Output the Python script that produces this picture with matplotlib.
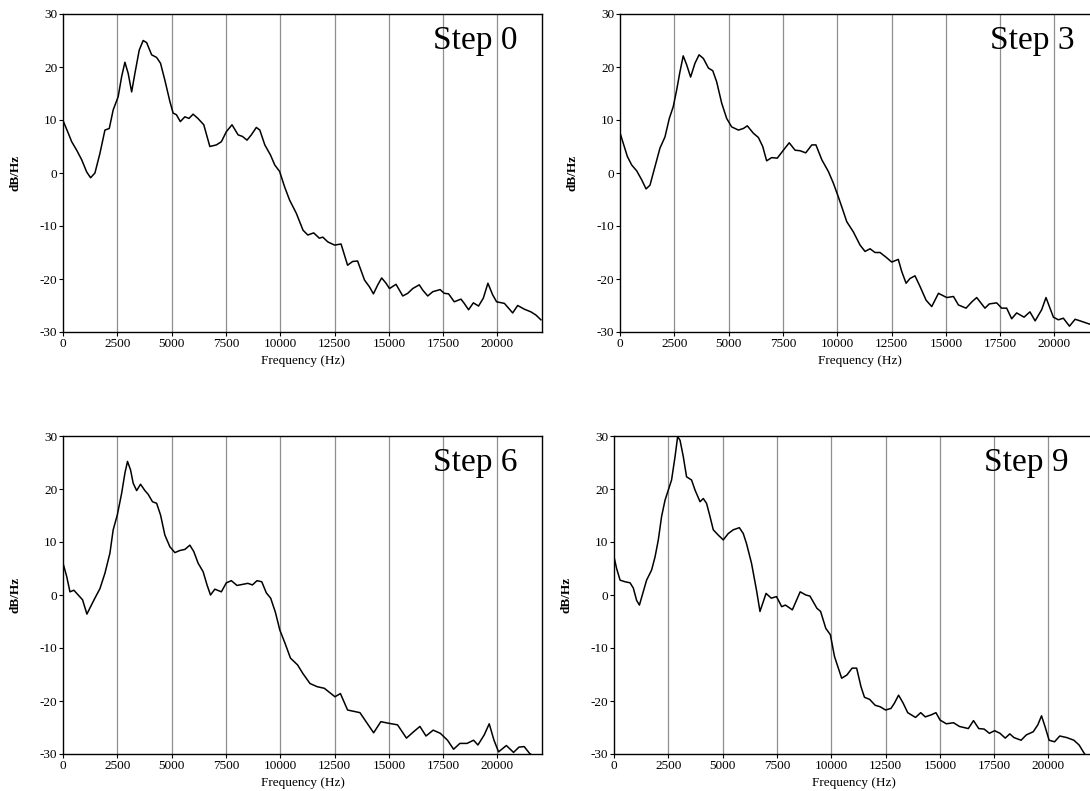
import numpy as np
import matplotlib
matplotlib.use("Agg")
import matplotlib.pyplot as plt

plt.rcParams['font.family'] = ['Liberation Serif', 'DejaVu Serif']
plt.rcParams['axes.unicode_minus'] = False

# spectra (frequency in Hz, level in dB/Hz)
f0 = [0, 244, 400, 630, 860, 1090, 1270, 1470, 1700, 1930, 2130, 2310, 2540, 2700, 2850,
      3000, 3160, 3310, 3510, 3690, 3850, 4080, 4310, 4490, 4690, 4920, 5070, 5220, 5400, 5610,
      5800, 5990, 6210, 6480, 6760, 7060, 7290, 7520, 7780, 8060, 8260, 8470, 8670, 8900, 9060,
      9290, 9550, 9750, 9970, 10200, 10430, 10740, 11050, 11270, 11540, 11800, 11960, 12190, 12500, 12800,
      13100, 13330, 13560, 13880, 14110, 14290, 14490, 14670, 14870, 15030, 15330, 15640, 15870, 16100, 16400,
      16560, 16790, 17020, 17360, 17550, 17750, 18010, 18320, 18470, 18670, 18890, 19130, 19350, 19560, 19780,
      19960, 20320, 20700, 20930, 21240, 21540, 21770, 22000]
v0 = [9.9, 7.5, 5.9, 4.3, 2.5, 0.2, -0.9, 0, 3.7, 8.1, 8.4, 11.9, 14.4, 18.2, 20.9,
      18.8, 15.3, 18.8, 23.2, 25, 24.6, 22.3, 21.8, 20.7, 17.5, 13.5, 11.3, 11, 9.7, 10.6,
      10.3, 11.1, 10.3, 9.1, 5, 5.3, 5.9, 7.8, 9.1, 7.2, 6.9, 6.2, 7.2, 8.6, 8.1,
      5.3, 3.4, 1.5, 0.3, -2.6, -5.1, -7.6, -10.8, -11.7, -11.3, -12.3, -12.1, -13, -13.6, -13.4,
      -17.4, -16.7, -16.6, -20.2, -21.5, -22.8, -21.1, -19.8, -20.8, -21.8, -21, -23.2, -22.7, -21.8, -21.1,
      -22.1, -23.2, -22.4, -22, -22.7, -22.8, -24.3, -23.8, -24.6, -25.8, -24.5, -25.1, -23.6, -20.8, -23,
      -24.3, -24.6, -26.4, -25, -25.7, -26.2, -26.8, -27.7]

f3 = [0, 150, 340, 540, 770, 1000, 1200, 1380, 1610, 1840, 2070, 2270, 2450, 2610, 2760,
      2910, 3070, 3250, 3450, 3640, 3840, 4070, 4270, 4450, 4680, 4910, 5140, 5450, 5680, 5860,
      6140, 6370, 6570, 6750, 6980, 7240, 7520, 7790, 8060, 8290, 8550, 8830, 9020, 9290, 9590,
      9820, 10050, 10210, 10440, 10740, 11050, 11280, 11510, 11740, 11970, 12250, 12510, 12810, 12970, 13170,
      13350, 13580, 13810, 14090, 14350, 14660, 15040, 15350, 15580, 15930, 16200, 16420, 16800, 17000, 17340,
      17570, 17800, 18030, 18260, 18600, 18870, 19110, 19410, 19610, 19950, 20180, 20410, 20690, 20950, 21180,
      21610, 22050]
v3 = [7.6, 5.6, 3.1, 1.5, 0.4, -1.3, -3, -2.3, 1.2, 4.7, 6.8, 10.3, 12.5, 15.7, 19.1,
      22.1, 20.4, 18.1, 20.7, 22.3, 21.6, 19.8, 19.3, 17.2, 13.2, 10.3, 8.7, 8.1, 8.4, 8.9,
      7.5, 6.7, 5, 2.3, 2.9, 2.8, 4.3, 5.7, 4.3, 4.2, 3.8, 5.3, 5.3, 2.5, 0.3,
      -1.9, -4.5, -6.4, -9.2, -11.1, -13.6, -14.8, -14.3, -15, -15, -15.9, -16.8, -16.3, -18.6, -20.8,
      -19.9, -19.4, -21.4, -24, -25.2, -22.7, -23.5, -23.3, -24.9, -25.5, -24.3, -23.5, -25.5, -24.7, -24.5,
      -25.5, -25.5, -27.5, -26.4, -27.2, -26.2, -27.9, -25.8, -23.5, -27.2, -27.7, -27.4, -28.9, -27.6, -27.9,
      -28.5, -29]

f6 = [0, 170, 320, 500, 700, 900, 1100, 1430, 1700, 1930, 2160, 2310, 2500, 2700, 2850,
      2970, 3110, 3230, 3390, 3570, 3770, 3920, 4120, 4310, 4490, 4690, 4920, 5150, 5380, 5610,
      5840, 6020, 6220, 6450, 6630, 6790, 6990, 7290, 7520, 7750, 8010, 8260, 8510, 8720, 8930,
      9150, 9360, 9560, 9780, 9980, 10220, 10470, 10800, 11040, 11370, 11700, 12030, 12520, 12770, 13100,
      13670, 14000, 14300, 14630, 14990, 15400, 15810, 16140, 16430, 16710, 17040, 17370, 17700, 17980, 18270,
      18600, 18900, 19100, 19390, 19620, 19840, 20050, 20410, 20740, 20990, 21230, 21480, 21700]
v6 = [6, 3.5, 0.6, 0.9, 0, -0.9, -3.6, -0.9, 1.2, 4.1, 7.9, 12.3, 15.1, 19.2, 23,
      25.2, 23.6, 21.1, 19.7, 20.9, 19.7, 19, 17.6, 17.3, 15.1, 11.3, 9.1, 8, 8.4, 8.6,
      9.4, 8.2, 6, 4.4, 1.9, 0, 1.1, 0.6, 2.3, 2.7, 1.8, 2, 2.2, 1.9, 2.7,
      2.5, 0.4, -0.6, -3.3, -6.6, -9.1, -11.9, -13.2, -14.8, -16.7, -17.3, -17.6, -19.2, -18.6, -21.7,
      -22.2, -24.2, -26, -23.9, -24.2, -24.5, -27, -25.8, -24.8, -26.6, -25.5, -26.1, -27.4, -29.1, -28,
      -28, -27.4, -28.3, -26.4, -24.3, -27.4, -29.6, -28.4, -29.7, -28.7, -28.6, -29.9, -30.5]

f9 = [0, 120, 280, 510, 740, 890, 1040, 1170, 1500, 1730, 1890, 2040, 2190, 2350, 2500,
      2650, 2810, 2930, 3040, 3190, 3340, 3570, 3730, 3960, 4110, 4260, 4420, 4570, 4800, 5030,
      5260, 5490, 5770, 5950, 6100, 6330, 6560, 6720, 7000, 7240, 7480, 7720, 7890, 8210, 8570,
      8830, 9020, 9340, 9510, 9750, 9960, 10150, 10480, 10720, 10960, 11170, 11370, 11530, 11770, 12020,
      12260, 12500, 12750, 12910, 13100, 13310, 13520, 13880, 14120, 14330, 14610, 14820, 15010, 15300, 15630,
      15900, 16310, 16550, 16790, 17040, 17280, 17520, 17770, 18010, 18220, 18410, 18740, 18980, 19300, 19510,
      19680, 19840, 20030, 20280, 20520, 20840, 21170, 21410, 21650, 21850]
v9 = [7.2, 5, 2.8, 2.5, 2.3, 1.3, -1, -1.9, 2.8, 4.7, 7.2, 10.4, 14.8, 17.9, 19.8,
      21.7, 26.1, 29.9, 29.2, 26.1, 22.3, 21.7, 19.8, 17.6, 18.2, 17.3, 14.8, 12.3, 11.3, 10.4,
      11.6, 12.3, 12.7, 11.6, 9.7, 6, 0.9, -3.1, 0.3, -0.6, -0.3, -2.2, -1.9, -2.8, 0.6,
      0, -0.2, -2.5, -3.1, -6.3, -7.5, -11.6, -15.7, -15.1, -13.8, -13.8, -17.3, -19.3, -19.7, -20.8,
      -21.1, -21.7, -21.4, -20.4, -18.9, -20.4, -22.2, -23.1, -22.2, -23, -22.6, -22.2, -23.6, -24.3, -24.1,
      -24.8, -25.2, -23.7, -25.2, -25.3, -26.1, -25.6, -26.1, -27, -26.2, -26.9, -27.4, -26.4, -25.8, -24.5,
      -22.8, -24.8, -27.4, -27.7, -26.6, -26.9, -27.4, -28.3, -29.9, -31]

titles = ['Step 0', 'Step 3', 'Step 6', 'Step 9']
xticks = [0, 2500, 5000, 7500, 10000, 12500, 15000, 17500, 20000]
yticks = [-30, -20, -10, 0, 10, 20, 30]

W, H = 1090, 791
# axes boxes in pixels: left, top, right, bottom
boxes = [(63, 14, 542, 332), (620, 14, 1099, 332),
         (63, 436, 542, 754), (614, 436, 1093, 754)]

fig = plt.figure(figsize=(W / 100, H / 100), dpi=100)

for (fx, vy, title, box) in zip([f0, f3, f6, f9], [v0, v3, v6, v9], titles, boxes):
    l, t, r, b = box
    ax = fig.add_axes([l / W, 1 - b / H, (r - l) / W, (b - t) / H])
    ax.set_xlim(0, 22050)
    ax.set_ylim(-30, 30)
    for x in xticks[1:]:
        ax.axvline(x, color='#8f8f8f', lw=0.9, zorder=1)
    ax.plot(fx, vy, color='black', lw=1.1, zorder=3, solid_joinstyle='round')
    ax.set_xticks(xticks)
    ax.set_yticks(yticks)
    ax.tick_params(direction='out', length=3, width=0.8, labelsize=9.5, pad=1)
    for s in ax.spines.values():
        s.set_linewidth(1.0)
    ax.set_xlabel('Frequency (Hz)', fontsize=9.5, labelpad=4)
    ax.set_ylabel('dB/Hz', fontsize=9.5, fontweight='bold')
    ax.yaxis.set_label_coords(-0.086, 0.5)
    ax.text(0.948, 0.965, title, transform=ax.transAxes, ha='right', va='top',
            fontsize=24, zorder=4)

fig.savefig('out.png', dpi=100)
